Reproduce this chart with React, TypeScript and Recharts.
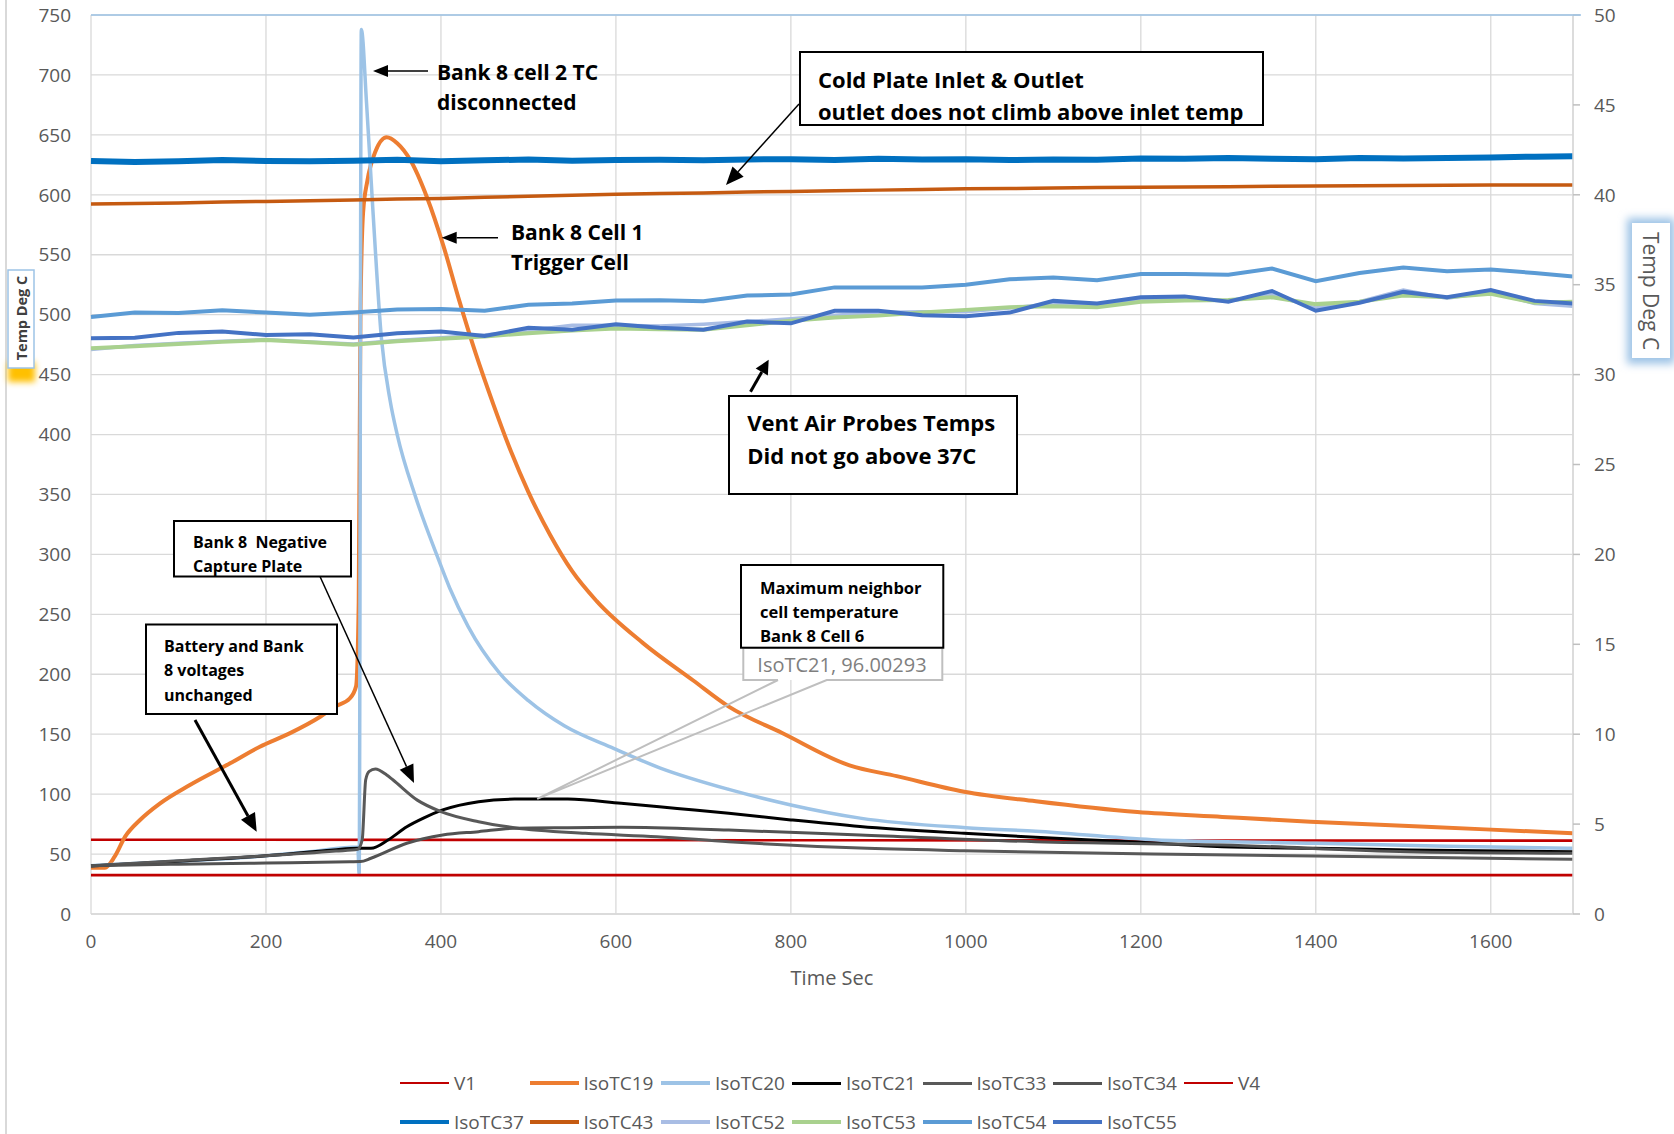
import React from 'react';
import { LineChart, Line, XAxis, YAxis, CartesianGrid, ReferenceDot } from 'recharts';

// common sampling (s) for the slowly varying channels (right axis)
const timeGrid = [
  0, 50, 100, 150, 200, 250, 300, 350, 400, 450, 500, 550, 600, 650, 700, 750, 800,
  850, 900, 950, 1000, 1050, 1100, 1150, 1200, 1250, 1300, 1350, 1400, 1450, 1500,
  1550, 1600, 1650, 1694,
];

const isoTC37 = [
  41.88, 41.82, 41.86, 41.93, 41.88, 41.86, 41.9, 41.95, 41.87, 41.92, 41.96, 41.9,
  41.93, 41.95, 41.92, 41.97, 41.98, 41.94, 42.0, 41.96, 41.98, 41.93, 41.97, 41.95,
  42.02, 42.0, 42.05, 42.0, 41.98, 42.05, 42.02, 42.04, 42.08, 42.12, 42.15,
];
const isoTC43 = [
  39.49, 39.52, 39.55, 39.6, 39.63, 39.67, 39.71, 39.76, 39.8, 39.86, 39.92, 39.97,
  40.03, 40.07, 40.1, 40.15, 40.19, 40.22, 40.26, 40.3, 40.33, 40.35, 40.38, 40.4,
  40.42, 40.44, 40.45, 40.47, 40.49, 40.5, 40.52, 40.53, 40.54, 40.55, 40.55,
];
const isoTC52 = [
  31.4, 31.62, 31.75, 31.85, 31.95, 31.82, 31.7, 31.9, 32.05, 32.2, 32.45, 32.75,
  32.75, 32.7, 32.8, 32.95, 33.1, 33.3, 33.45, 33.5, 33.5, 33.7, 33.95, 33.85,
  34.15, 34.2, 34.1, 34.45, 33.7, 34.05, 34.7, 34.25, 34.6, 33.95, 33.8,
];
const isoTC53 = [
  31.47, 31.58, 31.7, 31.82, 31.92, 31.8, 31.66, 31.85, 32.0, 32.12, 32.3, 32.45,
  32.56, 32.52, 32.5, 32.75, 33.0, 33.18, 33.28, 33.45, 33.6, 33.75, 33.8, 33.75,
  34.05, 34.12, 34.15, 34.3, 33.92, 34.05, 34.4, 34.3, 34.5, 34.0, 34.05,
];
const isoTC54 = [
  33.2, 33.45, 33.42, 33.58, 33.45, 33.33, 33.45, 33.62, 33.65, 33.55, 33.88, 33.95,
  34.12, 34.13, 34.08, 34.4, 34.45, 34.85, 34.85, 34.85, 35.0, 35.3, 35.4, 35.25,
  35.6, 35.6, 35.55, 35.9, 35.2, 35.65, 35.95, 35.75, 35.85, 35.65, 35.45,
];
const isoTC55 = [
  32.02, 32.05, 32.32, 32.4, 32.2, 32.25, 32.07, 32.3, 32.4, 32.15, 32.6, 32.5,
  32.8, 32.6, 32.5, 32.95, 32.85, 33.55, 33.55, 33.3, 33.25, 33.45, 34.1, 33.95,
  34.3, 34.35, 34.05, 34.65, 33.55, 34.0, 34.6, 34.3, 34.7, 34.1, 33.95,
];

// voltages (right axis)
const voltTime = [0, 425, 850, 1275, 1694];
const v1 = [4.13, 4.12, 4.1, 4.09, 4.08];
const v4 = [2.16, 2.16, 2.16, 2.16, 2.16];

// cell / plate thermocouples (left axis), [time s, deg C]
const isoTC19: [number, number][] = [
  [0, 38.5], [16, 38.6], [27, 47.8], [39, 64.5], [56, 78.4], [79, 92.3], [113, 107.6],
  [159, 125.7], [193, 139.6], [227, 150.7], [262, 164.6], [279, 173], [296, 180],
  [303, 190], [306, 260], [308, 500], [311, 585], [316, 612], [325, 636], [338, 648],
  [350, 643], [365, 629], [384, 598], [403, 557], [420, 514], [440, 467], [460, 425],
  [480, 386], [500, 352], [525, 316], [550, 286], [578, 261], [631, 226], [688, 195],
  [729, 173], [790, 151], [867, 124], [921, 115], [998, 102], [1080, 94], [1196, 85],
  [1293, 81], [1394, 77], [1506, 73.4], [1594, 70.6], [1694, 67.3],
];
const isoTC20: [number, number][] = [
  [0, 40.3], [100, 44], [200, 48.5], [250, 52], [305, 56], [306.5, 33], [309, 738],
  [315, 676], [322, 590], [332, 480], [342, 428], [350, 400], [371, 348], [395, 300],
  [410, 272], [431, 240], [467, 201], [500, 178], [541, 157], [598, 138], [650, 122],
  [729, 104], [800, 91], [879, 80], [1000, 72], [1080, 69], [1213, 62], [1400, 59],
  [1550, 56.5], [1694, 54.8],
];
const isoTC21: [number, number][] = [
  [0, 40], [100, 44], [200, 48.5], [277, 53.4], [305, 54.8], [320, 54.8], [340, 62],
  [361, 72.8], [380, 80], [402, 86.8], [443, 93.7], [484, 95.9], [510, 96.00293],
  [545, 95.9], [606, 92.3], [670, 88], [729, 84], [800, 78.5], [879, 73], [998, 67.3],
  [1080, 64], [1187, 60.3], [1293, 56.2], [1399, 54.8], [1506, 53.4], [1694, 52],
];
const isoTC33: [number, number][] = [
  [0, 40.3], [100, 44.5], [200, 48.5], [280, 52.5], [305, 54], [310, 62], [314, 112],
  [318, 119], [325, 121], [338, 116], [345, 112], [373, 95], [400, 85.4], [443, 77],
  [484, 72], [565, 67.3], [647, 64.5], [729, 60.3], [879, 55], [998, 52.8], [1213, 50],
  [1399, 48.4], [1694, 45.6],
];
const isoTC34: [number, number][] = [
  [0, 40.3], [100, 41.5], [200, 42.5], [296, 43.6], [308, 43.7], [320, 46.5], [361, 59],
  [402, 65.9], [443, 68.7], [484, 71.5], [545, 72], [606, 72.3], [729, 70], [879, 65.9],
  [1080, 60.3], [1293, 57.6], [1506, 52], [1694, 50.6],
];

const xTicks = [0, 200, 400, 600, 800, 1000, 1200, 1400, 1600];
const leftTicks = [0, 50, 100, 150, 200, 250, 300, 350, 400, 450, 500, 550, 600, 650, 700, 750];
const rightTicks = [0, 5, 10, 15, 20, 25, 30, 35, 40, 45, 50];

const grid = (vals: number[]) => timeGrid.map((t, i) => ({ t, v: vals[i] }));
const volt = (vals: number[]) => voltTime.map((t, i) => ({ t, v: vals[i] }));
const pairs = (p: [number, number][]) => p.map(([t, v]) => ({ t, v }));

type Series = {
  name: string;
  color: string;
  width: number;
  axis: 'left' | 'right';
  curve: 'linear' | 'monotone';
  data: { t: number; v: number }[];
};

const series: Series[] = [
  { name: 'V1', color: '#C00000', width: 2.6, axis: 'right', curve: 'linear', data: volt(v1) },
  { name: 'IsoTC19', color: '#ED7D31', width: 4, axis: 'left', curve: 'monotone', data: pairs(isoTC19) },
  { name: 'IsoTC20', color: '#9DC3E6', width: 3.5, axis: 'left', curve: 'monotone', data: pairs(isoTC20) },
  { name: 'IsoTC21', color: '#000000', width: 3, axis: 'left', curve: 'monotone', data: pairs(isoTC21) },
  { name: 'IsoTC33', color: '#595959', width: 3, axis: 'left', curve: 'monotone', data: pairs(isoTC33) },
  { name: 'IsoTC34', color: '#525252', width: 3, axis: 'left', curve: 'monotone', data: pairs(isoTC34) },
  { name: 'V4', color: '#C00000', width: 2.6, axis: 'right', curve: 'linear', data: volt(v4) },
  { name: 'IsoTC37', color: '#0070C0', width: 6, axis: 'right', curve: 'linear', data: grid(isoTC37) },
  { name: 'IsoTC43', color: '#C55A11', width: 3.5, axis: 'right', curve: 'linear', data: grid(isoTC43) },
  { name: 'IsoTC52', color: '#A9BDE4', width: 3.5, axis: 'right', curve: 'linear', data: grid(isoTC52) },
  { name: 'IsoTC53', color: '#A9D18E', width: 4, axis: 'right', curve: 'linear', data: grid(isoTC53) },
  { name: 'IsoTC54', color: '#5B9BD5', width: 4, axis: 'right', curve: 'linear', data: grid(isoTC54) },
  { name: 'IsoTC55', color: '#4472C4', width: 4, axis: 'right', curve: 'linear', data: grid(isoTC55) },
];

const legendCols = [400, 529.5, 661, 792, 922.5, 1053, 1184];
const legendRows = [1083, 1122];

const annoFont = '"Open Sans", Lato, sans-serif';
const axisFont = '"Open Sans", sans-serif';

function Arrow({ x1, y1, x2, y2, w = 1.5, head = 15, hw = 6 }: { x1: number; y1: number; x2: number; y2: number; w?: number; head?: number; hw?: number }) {
  const len = Math.hypot(x2 - x1, y2 - y1);
  const ux = (x2 - x1) / len;
  const uy = (y2 - y1) / len;
  const bx = x2 - ux * head;
  const by = y2 - uy * head;
  const px = -uy * hw;
  const py = ux * hw;
  return (
    <g>
      <line x1={x1} y1={y1} x2={bx} y2={by} stroke="#000" strokeWidth={w} />
      <polygon points={`${x2},${y2} ${bx + px},${by + py} ${bx - px},${by - py}`} fill="#000" />
    </g>
  );
}

function TextLines({ x, ys, lines, size, weight = 700, fill = '#000' }: { x: number; ys: number[]; lines: string[]; size: number; weight?: number; fill?: string }) {
  return (
    <g>
      {lines.map((s, i) => (
        <text key={i} x={x} y={ys[i]} fontSize={size} fontWeight={weight} fill={fill} fontFamily={annoFont} dominantBaseline="central" style={{ whiteSpace: 'pre' }}>
          {s}
        </text>
      ))}
    </g>
  );
}

const peak21 = isoTC21.reduce((a, b) => (b[1] > a[1] ? b : a));

// data label of the IsoTC21 maximum, tip placed by the chart's own scales
function PeakCallout(props: any) {
  const { cx, cy } = props;
  const bx0 = 743.3, bx1 = 942.3, by0 = 647.7, by1 = 680;
  return (
    <g>
      <rect x={bx0} y={by0} width={bx1 - bx0} height={by1 - by0} fill="#fff" />
      <path d={`M778 ${by1} H${bx0} V${by0} H${bx1} V${by1} H826.7 L${cx} ${cy} L778 ${by1}`} fill="none" stroke="#BFBFBF" strokeWidth={2} />
      <text x={757.3} y={664} fontSize={20} fill="#7F7F7F" fontFamily={axisFont} dominantBaseline="central">
        {`IsoTC21, ${peak21[1]}`}
      </text>
    </g>
  );
}

export default function App() {
  return (
    <div style={{ position: 'absolute', left: 0, top: 0, width: 1674, height: 1134, background: '#fff', overflow: 'hidden', fontFamily: axisFont }}>
      <LineChart width={1674} height={1134} margin={{ top: 15, right: 0, bottom: 0, left: 0 }}>
        <CartesianGrid yAxisId="left" stroke="#D9D9D9" strokeWidth={1.3} />
        <XAxis
          dataKey="t"
          type="number"
          domain={[0, 1694]}
          ticks={xTicks}
          interval={0}
          height={220}
          tickSize={0}
          tickMargin={21}
          stroke="#D9D9D9"
          strokeWidth={1.5}
          tick={{ fill: '#595959', fontSize: 19, fontFamily: axisFont }}
          label={{ value: 'Time Sec', position: 'insideTop', offset: 57, fill: '#595959', fontSize: 20, fontFamily: axisFont }}
        />
        <YAxis
          yAxisId="left"
          domain={[0, 750]}
          ticks={leftTicks}
          interval={0}
          width={91}
          axisLine={false}
          tickLine={false}
          tickSize={0}
          tickMargin={20}
          tick={{ fill: '#595959', fontSize: 19, fontFamily: axisFont }}
        />
        <YAxis
          yAxisId="right"
          orientation="right"
          domain={[0, 50]}
          ticks={rightTicks}
          interval={0}
          width={101}
          stroke="#D9D9D9"
          strokeWidth={1.5}
          tickSize={7}
          tickMargin={14}
          tickLine={{ stroke: '#BFBFBF' }}
          tick={{ fill: '#595959', fontSize: 19, fontFamily: axisFont }}
        />
        {series.map((s) => (
          <Line
            key={s.name}
            name={s.name}
            yAxisId={s.axis}
            data={s.data}
            dataKey="v"
            type={s.curve}
            stroke={s.color}
            strokeWidth={s.width}
            dot={false}
            activeDot={false}
            isAnimationActive={false}
          />
        ))}
        <ReferenceDot yAxisId="left" x={peak21[0]} y={peak21[1]} r={0} ifOverflow="visible" shape={(p: any) => <PeakCallout {...p} />} />
      </LineChart>

      <svg width={1674} height={1134} style={{ position: 'absolute', left: 0, top: 0, pointerEvents: 'none' }}>
        <defs>
          <filter id="blur3" x="-50%" y="-50%" width="200%" height="200%">
            <feGaussianBlur stdDeviation="3" />
          </filter>
          <filter id="blur4" x="-50%" y="-50%" width="200%" height="200%">
            <feGaussianBlur stdDeviation="4" />
          </filter>
        </defs>

        {/* chart area edge and plot top */}
        <line x1={6} y1={0} x2={6} y2={1134} stroke="#D9D9D9" strokeWidth={2} />
        <line x1={91} y1={15} x2={1581} y2={15} stroke="#9DC3E6" strokeWidth={1.5} />

        {/* left axis title */}
        <rect x={8} y={362} width={27} height={20} fill="#FFC000" filter="url(#blur3)" />
        <rect x={8} y={270} width={26} height={98} fill="#fff" stroke="#9DC3E6" strokeWidth={1.5} />
        <text x={21} y={318} fontSize={14.5} fontWeight={700} fill="#404040" fontFamily={annoFont} textAnchor="middle" dominantBaseline="central" transform="rotate(-90 21 318)">
          Temp Deg C
        </text>

        {/* right axis title */}
        <rect x={1627} y={218} width={48} height={146} fill="#9DC3E6" filter="url(#blur4)" />
        <rect x={1632} y={223} width={38} height={135} fill="#fff" />
        <text x={1651} y={291} fontSize={21} fill="#595959" fontFamily={axisFont} textAnchor="middle" dominantBaseline="central" transform="rotate(90 1651 291)">
          Temp Deg C
        </text>

        {/* Bank 8 cell 2 TC */}
        <Arrow x1={428} y1={71} x2={373} y2={71} head={15} hw={6} />
        <TextLines x={437} ys={[72, 101.5]} lines={['Bank 8 cell 2 TC', 'disconnected']} size={21} />

        {/* Bank 8 Cell 1 */}
        <Arrow x1={498} y1={237.7} x2={441.7} y2={237.7} head={15} hw={6} />
        <TextLines x={511} ys={[232, 262]} lines={['Bank 8 Cell 1', 'Trigger Cell']} size={21} />

        {/* cold plate */}
        <Arrow x1={799} y1={104} x2={726} y2={185} head={18} hw={7.5} />
        <rect x={800} y={52} width={463} height={73} fill="#fff" stroke="#000" strokeWidth={2} />
        <TextLines x={818} ys={[79, 111]} lines={['Cold Plate Inlet & Outlet', 'outlet does not climb above inlet temp']} size={22} />

        {/* vent air */}
        <Arrow x1={750.5} y1={391.8} x2={768.7} y2={359.8} w={3} head={14} hw={7} />
        <rect x={729} y={396} width={288} height={98} fill="#fff" stroke="#000" strokeWidth={2} />
        <TextLines x={747.3} ys={[421.7, 454.8]} lines={['Vent Air Probes Temps', 'Did not go above 37C']} size={22} />

        {/* negative capture plate */}
        <Arrow x1={320} y1={576.5} x2={414} y2={783} head={18} hw={7.5} />
        <rect x={174} y={521} width={177} height={55.5} fill="#fff" stroke="#000" strokeWidth={2} />
        <TextLines x={193} ys={[542.3, 565.8]} lines={['Bank 8  Negative', 'Capture Plate']} size={16} />

        {/* battery voltages */}
        <Arrow x1={195} y1={720} x2={256.7} y2={831.7} w={3} head={18} hw={8} />
        <rect x={146} y={624.5} width={191} height={89.5} fill="#fff" stroke="#000" strokeWidth={2} />
        <TextLines x={164} ys={[646, 670.4, 695]} lines={['Battery and Bank', '8 voltages', 'unchanged']} size={16} />

        {/* neighbor cell */}
        <rect x={741} y={565} width={202.3} height={82.7} fill="#fff" stroke="#000" strokeWidth={2} />
        <TextLines x={760} ys={[587.3, 611, 635]} lines={['Maximum neighbor', 'cell temperature', 'Bank 8 Cell 6']} size={16.5} />
      </svg>

      {series.map((s, i) => {
        const row = i < 7 ? 0 : 1;
        const col = i < 7 ? i : i - 7;
        return (
          <div
            key={s.name}
            style={{ position: 'absolute', left: legendCols[col], top: legendRows[row] - 11, height: 22, display: 'flex', alignItems: 'center', whiteSpace: 'nowrap' }}
          >
            <div style={{ width: 49, height: Math.min(s.width, 4.5), background: s.color }} />
            <span style={{ marginLeft: 5, fontSize: 19, lineHeight: '22px', color: '#595959', fontFamily: axisFont }}>{s.name}</span>
          </div>
        );
      })}
    </div>
  );
}
